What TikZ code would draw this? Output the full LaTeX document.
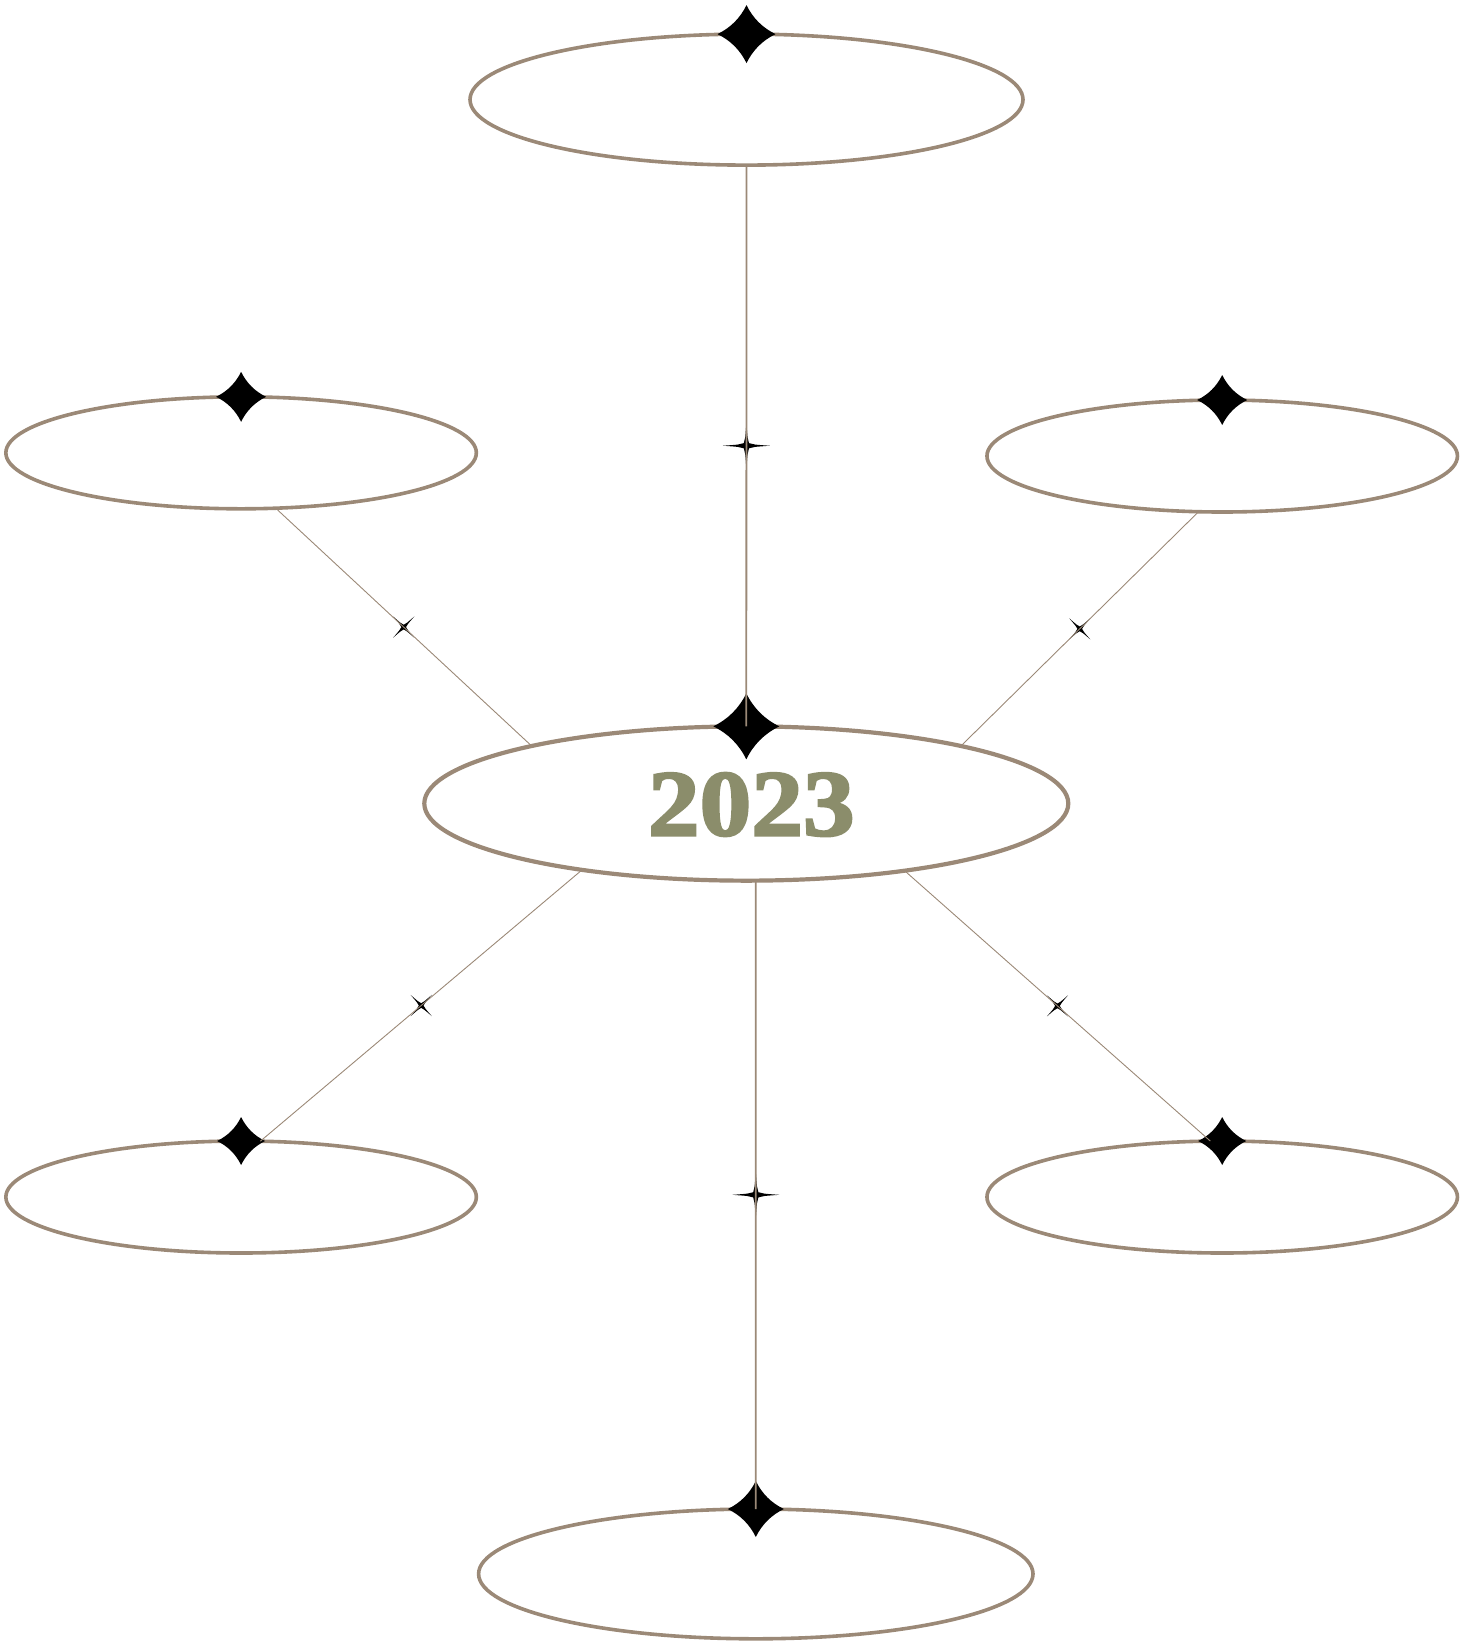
\documentclass[tikz,border=0pt]{standalone}
\usepackage{fontspec}
\usetikzlibrary{shapes.geometric}
\newfontfamily\yearfont[BoldFeatures={FakeBold=2.6,FakeStretch=1.1}]{Liberation Serif}
\definecolor{rim}{RGB}{155,137,119}
\definecolor{olive}{RGB}{139,141,107}
\tikzset{
  bubble/.style={ellipse, draw=rim, line width=3.6pt, inner sep=0pt, outer sep=0pt, fill=white},
  link/.style={draw=rim, line width=0.9pt},
  stem/.style={draw=rim, line width=1.8pt},
  yeartext/.style={font=\yearfont\bfseries\fontsize{94}{94}\selectfont, text=olive, inner sep=0pt},
  % four-pointed sparkle with concave sides
  bigstar/.pic={\fill[black] (1,0) .. controls (0.55,0.22) and (0.22,0.55) .. (0,1)
      .. controls (-0.22,0.55) and (-0.55,0.22) .. (-1,0)
      .. controls (-0.55,-0.22) and (-0.22,-0.55) .. (0,-1)
      .. controls (0.22,-0.55) and (0.55,-0.22) .. (1,0) -- cycle;},
  % slender sparkle used as a connector marker
  thinstar/.pic={\fill[black] (1,0) .. controls (0.3,0.05) .. (0.11,0.11)
      .. controls (0.05,0.3) .. (0,1) .. controls (-0.05,0.3) .. (-0.11,0.11)
      .. controls (-0.3,0.05) .. (-1,0) .. controls (-0.3,-0.05) .. (-0.11,-0.11)
      .. controls (-0.05,-0.3) .. (0,-1) .. controls (0.05,-0.3) .. (0.11,-0.11)
      .. controls (0.3,-0.05) .. (1,0) -- cycle;}
}
\begin{document}
\begin{tikzpicture}[x=1pt,y=-1pt]
\useasboundingbox (0,0) rectangle (1478,1644);

% ellipses
\node[bubble, minimum width=553, minimum height=131] (top) at (746.5,99.6) {};
\node[bubble, minimum width=470.5, minimum height=112] (lm) at (241.1,452.8) {};
\node[bubble, minimum width=470.5, minimum height=112] (rm) at (1222.2,456) {};
\node[bubble, line width=4.2pt, minimum width=644, minimum height=154.3,
      label={[yeartext, xshift=5pt, yshift=-1pt]center:2023}] (c) at (746.3,803.5) {};
\node[bubble, minimum width=470.5, minimum height=112] (bl) at (241.1,1197) {};
\node[bubble, minimum width=470.5, minimum height=112] (br) at (1222.2,1197) {};
\node[bubble, minimum width=554.4, minimum height=129.8] (bot) at (755.8,1573.9) {};

% connector midpoints
\path (top.south) -- coordinate[midway] (m1) (c.north);
\path (lm.-58) -- coordinate[midway] (m2) (c.165);
\path (rm.-113) -- coordinate[midway] (m3) (c.15);
\path (c.-158) -- coordinate[midway] (m4) (bl.71);
\path (c.-23) -- coordinate[midway] (m5) (br.102);
\path (c.-83) -- coordinate[midway] (m6) (bot.north);

% sparkles on the ellipses
\pic[scale=29] at (top.north) {bigstar};
\pic[scale=25] at (lm.north) {bigstar};
\pic[scale=25] at (rm.north) {bigstar};
\pic[scale=33] at (c.north) {bigstar};
\pic[scale=24] at (bl.north) {bigstar};
\pic[scale=24] at (br.north) {bigstar};
\pic[scale=28] at (bot.north) {bigstar};

% sparkles on the connectors
\pic[scale=23.5] at (m1) {thinstar};
\pic[scale=15, rotate=45] at (m2) {thinstar};
\pic[scale=15, rotate=45] at (m3) {thinstar};
\pic[scale=15, rotate=45] at (m4) {thinstar};
\pic[scale=15, rotate=45] at (m5) {thinstar};
\pic[scale=23.5] at (m6) {thinstar};

% connectors
\draw[stem] (top.south) -- (c.north);
\draw[link] (lm.-58) -- (c.165);
\draw[link] (rm.-113) -- (c.15);
\draw[link] (c.-158) -- (bl.71);
\draw[link] (c.-23) -- (br.102);
\draw[stem] (c.-83) -- (bot.north);
\end{tikzpicture}
\end{document}
